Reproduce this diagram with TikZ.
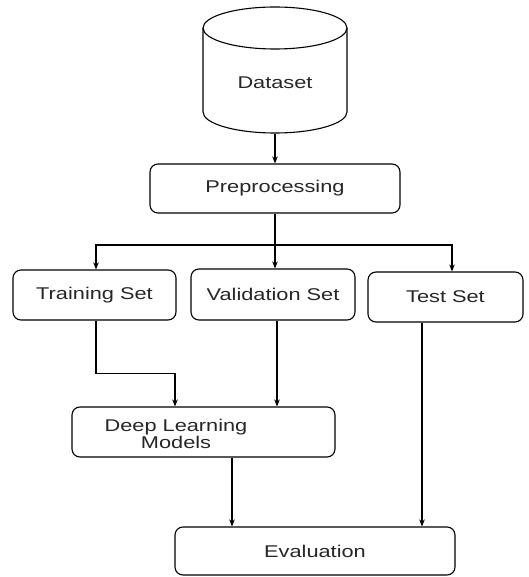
\documentclass[tikz,border=0pt]{standalone}
\usepackage{fontspec}
\setmainfont{Liberation Sans}[FakeStretch=1.28]
\usetikzlibrary{arrows.meta}
\begin{document}
\begin{tikzpicture}[x=1pt,y=-1pt,
  line width=1.1pt,
  txt/.style={font=\fontsize{17}{14}\selectfont, text=black!85},
  box/.style={draw, rounded corners=8pt, inner sep=0pt, txt},
  arr/.style={-{Stealth[length=7pt,width=5.5pt]}},
]
\useasboundingbox (0,0) rectangle (528,577);

% database cylinder
\draw (275,28) ellipse[x radius=72, y radius=21];
\draw (203,28) -- (203,112) arc[start angle=180, end angle=0, x radius=72, y radius=21] -- (347,28);
\node[txt, inner sep=0pt, minimum width=144pt, minimum height=126pt] (dataset) at (275,70) {};
\node[txt] (dstext) at (275,83) {Dataset};

% processing boxes
\node[box, minimum width=250pt, minimum height=49pt] (pre) at (275,188.5) {Preprocessing};
\node[box, minimum width=163pt, minimum height=50pt] (train) at (94.5,295) {Training Set};
\node[box, minimum width=164pt, minimum height=51pt] (val) at (273,294.5) {Validation Set};
\node[box, minimum width=155pt, minimum height=50pt] (test) at (445.5,297) {Test Set};
\node[box, minimum width=263pt, minimum height=50pt] (dl) at (203.5,432) {};
\node[txt, align=center, inner sep=0pt] (dltext) at (176,434) {Deep Learning\\Models};
\node[box, minimum width=280pt, minimum height=48pt] (eval) at (315,551) {Evaluation};

\coordinate (split) at (275,245);

% connectors
\draw[arr] (dataset.south) -- (pre.north);
\draw (pre.south) -- (split);
\draw[arr] (split) -| ([xshift=1.5pt]train.north);
\draw[arr] (split) -- (split |- val.north);
\draw[arr] (split) -| ([xshift=6.5pt]test.north);
\draw[arr] ([xshift=1.5pt]train.south) -- ++(0,53) -| ([xshift=-28.5pt]dl.north);
\draw[arr] ([xshift=4pt]val.south) -- ([xshift=4pt]val.south |- dl.north);
\draw[arr] ([xshift=28.5pt]dl.south) -- ([xshift=28.5pt]dl.south |- eval.north);
\draw[arr] ([xshift=-23.5pt]test.south) -- ([xshift=-23.5pt]test.south |- eval.north);
\end{tikzpicture}
\end{document}
